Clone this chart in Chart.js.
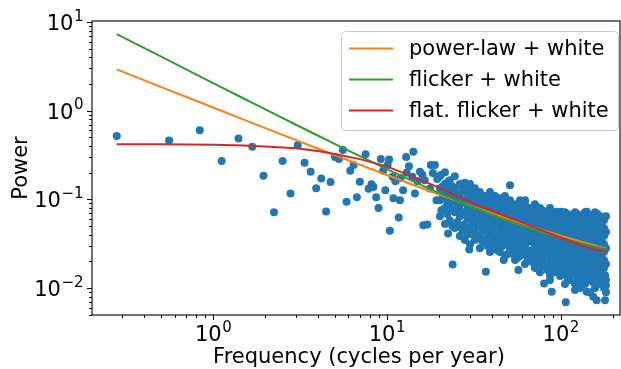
<!DOCTYPE html>
<html>
<head>
<meta charset="utf-8">
<script src="https://cdn.jsdelivr.net/npm/chart.js@4"></script>
<style>
  body { margin: 0; background: #fff; }
</style>
</head>
<body>
<canvas id="psdChart" width="621" height="369"></canvas>
<script>
// periodogram, low frequencies (cycles per year, power)
const sparsePoints = [
  [0.279, 0.521], [0.558, 0.463], [0.838, 0.604], [1.12, 0.272], [1.40, 0.487],
  [1.68, 0.392], [1.95, 0.185], [2.24, 0.0719], [2.51, 0.272], [2.79, 0.117],
  [3.07, 0.409], [3.36, 0.259], [3.64, 0.205], [3.92, 0.134], [4.19, 0.172],
  [4.47, 0.0732], [4.74, 0.157], [5.03, 0.302], [5.30, 0.285], [5.58, 0.360],
  [5.86, 0.094], [6.15, 0.210], [6.43, 0.244], [6.72, 0.106], [6.99, 0.158],
  [7.54, 0.324], [7.85, 0.132], [8.16, 0.148], [8.37, 0.138], [8.68, 0.106],
  [8.96, 0.0798], [9.23, 0.285], [9.52, 0.210], [9.79, 0.127], [10.1, 0.245],
  [10.3, 0.283], [10.4, 0.0443], [10.8, 0.180], [10.9, 0.103], [11.2, 0.160],
  [11.7, 0.0627], [11.9, 0.098], [12.0, 0.175], [12.4, 0.127], [12.9, 0.302],
  [13.0, 0.200], [13.4, 0.237], [14.0, 0.180], [14.2, 0.344], [14.5, 0.117],
  [15.0, 0.160], [15.5, 0.205], [16.0, 0.190], [16.2, 0.0513], [16.5, 0.165],
  [17.1, 0.052], [17.7, 0.133], [17.9, 0.244], [18.4, 0.199], [18.9, 0.244],
  [19.3, 0.098], [19.5, 0.170], [20.5, 0.190], [20.6, 0.0757], [21.0, 0.140],
  [22.5, 0.158], [22.5, 0.0414], [23.9, 0.0185], [25.2, 0.112], [25.8, 0.0491],
  [26.3, 0.0757], [28.1, 0.154], [29.8, 0.045], [29.8, 0.0273], [30.8, 0.098],
  [32.8, 0.098], [35.9, 0.090], [37.1, 0.0153], [39.2, 0.0414], [42.4, 0.098],
  [44.7, 0.103], [47.0, 0.0207], [51.1, 0.145], [53.5, 0.0292], [57.1, 0.0160],
  [62.4, 0.098], [68.0, 0.0246], [72.6, 0.0826], [80.3, 0.0113], [83.0, 0.0665],
  [86.8, 0.0140], [88.8, 0.0091], [95.0, 0.0725], [101, 0.0725], [107, 0.0069],
  [113, 0.0147], [121, 0.0095], [130, 0.0118], [134, 0.0665], [141, 0.0725],
  [141, 0.0091], [154, 0.0080], [161, 0.0073], [172, 0.0471], [180, 0.0073],
  [180, 0.0140], [182, 0.0107]
];

// periodogram, dense high-frequency cloud: [frequency, [powers...]]
const cloudColumns = [
  [20.2, [0.183, 0.134, 0.0982, 0.0648]],
  [21.6, [0.203, 0.149, 0.109, 0.0798, 0.0527]],
  [23.0, [0.165, 0.121, 0.0885, 0.0584]],
  [24.6, [0.183, 0.134, 0.0982, 0.0719, 0.0475]],
  [26.3, [0.149, 0.109, 0.0885, 0.0648, 0.0386]],
  [28.1, [0.134, 0.0982, 0.0719, 0.0527, 0.0348]],
  [30.1, [0.149, 0.121, 0.0798, 0.0648, 0.0475, 0.0313]],
  [32.1, [0.134, 0.109, 0.0885, 0.0584, 0.0428, 0.0348]],
  [34.3, [0.121, 0.0982, 0.0719, 0.0527, 0.0386, 0.0282]],
  [36.7, [0.109, 0.0885, 0.0648, 0.0475, 0.0348]],
  [39.2, [0.121, 0.0982, 0.0719, 0.0584, 0.0428, 0.0313, 0.0255]],
  [41.9, [0.109, 0.0798, 0.0648, 0.0527, 0.0386, 0.0282]],
  [44.7, [0.0982, 0.0719, 0.0584, 0.0475, 0.0348, 0.0255]],
  [47.8, [0.109, 0.0885, 0.0648, 0.0527, 0.0428, 0.0313, 0.0230]],
  [51.1, [0.0982, 0.0798, 0.0584, 0.0475, 0.0386, 0.0282]],
  [54.6, [0.0885, 0.0719, 0.0584, 0.0428, 0.0348, 0.0255, 0.0207]],
  [58.3, [0.0982, 0.0798, 0.0648, 0.0527, 0.0386, 0.0313, 0.0230]],
  [62.3, [0.0885, 0.0719, 0.0584, 0.0475, 0.0348, 0.0282, 0.0187]],
  [66.6, [0.0798, 0.0648, 0.0527, 0.0428, 0.0348, 0.0255, 0.0207]],
  [71.1, [0.0885, 0.0719, 0.0584, 0.0475, 0.0386, 0.0313, 0.0230, 0.0168]],
  [76.0, [0.0798, 0.0648, 0.0527, 0.0428, 0.0348, 0.0282, 0.0207, 0.0151]],
  [81.2, [0.0719, 0.0584, 0.0475, 0.0386, 0.0313, 0.0255, 0.0187]],
  [86.8, [0.0798, 0.0648, 0.0527, 0.0428, 0.0348, 0.0282, 0.0230, 0.0168, 0.0123]],
  [92.7, [0.0719, 0.0584, 0.0475, 0.0386, 0.0313, 0.0255, 0.0207, 0.0151]],
  [99.1, [0.0648, 0.0527, 0.0428, 0.0348, 0.0282, 0.0230, 0.0187, 0.0137]],
  [105.9, [0.0719, 0.0584, 0.0475, 0.0386, 0.0313, 0.0255, 0.0207, 0.0168, 0.0111]],
  [113.1, [0.0648, 0.0527, 0.0428, 0.0348, 0.0282, 0.0230, 0.0187, 0.0151, 0.0123]],
  [120.9, [0.0719, 0.0584, 0.0475, 0.0386, 0.0313, 0.0255, 0.0207, 0.0168, 0.0111]],
  [129.1, [0.0648, 0.0527, 0.0428, 0.0348, 0.0282, 0.0230, 0.0187, 0.0151, 0.0100]],
  [138.0, [0.0719, 0.0584, 0.0475, 0.0386, 0.0313, 0.0255, 0.0207, 0.0168, 0.0137, 0.0111]],
  [147.5, [0.0648, 0.0527, 0.0428, 0.0348, 0.0282, 0.0230, 0.0187, 0.0151, 0.0123, 0.0090]],
  [157.6, [0.0719, 0.0584, 0.0475, 0.0386, 0.0313, 0.0255, 0.0207, 0.0168, 0.0137, 0.0100]],
  [168.3, [0.0648, 0.0527, 0.0428, 0.0348, 0.0282, 0.0230, 0.0187, 0.0151, 0.0111]],
  [177.5, [0.0584, 0.0475, 0.0386, 0.0313, 0.0255, 0.0207, 0.0168, 0.0137, 0.0100]],
  [182.3, [0.0648, 0.0428, 0.0282, 0.0187, 0.0123, 0.0090]]
];

// more of the same cloud, between the columns above
const cloudColumnsMid = [
  [20.9, [0.1147, 0.0757]],
  [22.3, [0.1273, 0.0932, 0.0683]],
  [23.8, [0.141, 0.1034, 0.0757, 0.0500]],
  [25.4, [0.1147, 0.0841, 0.0555]],
  [27.2, [0.1273, 0.0932, 0.0683, 0.0451]],
  [29.1, [0.1147, 0.0841, 0.0615, 0.0406]],
  [31.1, [0.1273, 0.1034, 0.0841, 0.0683, 0.0555, 0.0406]],
  [33.2, [0.1147, 0.0932, 0.0757, 0.0615, 0.0500, 0.0366]],
  [35.5, [0.1034, 0.0841, 0.0683, 0.0555, 0.0451, 0.0330]],
  [37.9, [0.0932, 0.0757, 0.0615, 0.0500, 0.0406, 0.0298]],
  [40.5, [0.1034, 0.0841, 0.0683, 0.0555, 0.0451, 0.0366, 0.0298]],
  [43.3, [0.0932, 0.0757, 0.0615, 0.0500, 0.0406, 0.0330, 0.0268]],
  [46.2, [0.0841, 0.0683, 0.0555, 0.0451, 0.0366, 0.0298]],
  [49.4, [0.0932, 0.0757, 0.0615, 0.0500, 0.0406, 0.0330, 0.0242]],
  [52.8, [0.0841, 0.0683, 0.0555, 0.0451, 0.0366, 0.0298, 0.0242]],
  [56.4, [0.0757, 0.0615, 0.0500, 0.0406, 0.0330, 0.0268, 0.0218]],
  [60.3, [0.0841, 0.0683, 0.0555, 0.0451, 0.0366, 0.0298, 0.0242]],
  [64.4, [0.0757, 0.0615, 0.0500, 0.0406, 0.0330, 0.0268, 0.0218]],
  [68.8, [0.0757, 0.0615, 0.0500, 0.0406, 0.0330, 0.0268, 0.0196]],
  [73.5, [0.0683, 0.0555, 0.0451, 0.0366, 0.0298, 0.0242, 0.0196]],
  [78.5, [0.0757, 0.0615, 0.0500, 0.0406, 0.0330, 0.0268, 0.0218, 0.0177]],
  [83.9, [0.0683, 0.0555, 0.0451, 0.0366, 0.0298, 0.0242, 0.0196, 0.0160]],
  [89.7, [0.0615, 0.0500, 0.0406, 0.0330, 0.0268, 0.0218, 0.0177]],
  [95.8, [0.0683, 0.0555, 0.0451, 0.0366, 0.0298, 0.0242, 0.0196, 0.0160]],
  [102.4, [0.0615, 0.0500, 0.0406, 0.0330, 0.0268, 0.0218, 0.0177, 0.0144]],
  [109.4, [0.0683, 0.0555, 0.0451, 0.0366, 0.0298, 0.0242, 0.0196, 0.0160, 0.0130]],
  [116.9, [0.0615, 0.0500, 0.0406, 0.0330, 0.0268, 0.0218, 0.0177, 0.0144]],
  [124.9, [0.0683, 0.0555, 0.0451, 0.0366, 0.0298, 0.0242, 0.0196, 0.0160, 0.0130]],
  [133.5, [0.0615, 0.0500, 0.0406, 0.0330, 0.0268, 0.0218, 0.0177, 0.0144, 0.0117]],
  [142.6, [0.0683, 0.0555, 0.0451, 0.0366, 0.0298, 0.0242, 0.0196, 0.0160, 0.0130]],
  [152.4, [0.0615, 0.0500, 0.0406, 0.0330, 0.0268, 0.0218, 0.0177, 0.0144, 0.0117]],
  [162.8, [0.0683, 0.0555, 0.0451, 0.0366, 0.0298, 0.0242, 0.0196, 0.0160, 0.0130]],
  [172.8, [0.0615, 0.0500, 0.0406, 0.0330, 0.0268, 0.0218, 0.0177, 0.0144, 0.0117]]
];

// fitted noise models
const modelFreq   = [0.279, 0.5, 1, 1.5, 2, 3, 4, 5, 7, 10, 15, 20, 30, 50, 70, 100, 140, 182.6];
const powerLaw    = [2.93, 1.862, 1.088, 0.796, 0.638, 0.467, 0.375, 0.317, 0.246, 0.1885, 0.140, 0.1137, 0.0854, 0.0604, 0.0487, 0.0391, 0.0323, 0.0280];
const flicker     = [7.33, 4.10, 2.056, 1.376, 1.036, 0.696, 0.526, 0.424, 0.308, 0.220, 0.152, 0.118, 0.0843, 0.0571, 0.0454, 0.0367, 0.0309, 0.0275];
const flatFlicker = [0.420, 0.419, 0.413, 0.405, 0.396, 0.378, 0.352, 0.326, 0.285, 0.236, 0.172, 0.136, 0.094, 0.063, 0.049, 0.037, 0.029, 0.0252];

const seriesNames = ['power-law + white', 'flicker + white', 'flat. flicker + white'];
const seriesColors = ['#ff7f0e', '#2ca02c', '#d62728'];

const xTicks = [1, 10, 100];
const xTickExp = ['0', '1', '2'];
const yTicks = [0.01, 0.1, 1, 10];
const yTickExp = ['\u22122', '\u22121', '0', '1'];

const FONT = '"DejaVu Sans", sans-serif';

const observed = sparsePoints.map(p => ({x: p[0], y: p[1]}));
cloudColumns.concat(cloudColumnsMid).forEach(col => {
    col[1].forEach(p => observed.push({x: col[0], y: p}));
});

function modelData(vals) {
    return modelFreq.map((f, i) => ({x: f, y: vals[i]}));
}

function drawPow(ctx, exp, x, y, align) {
    ctx.font = '21px ' + FONT;
    const wb = ctx.measureText('10').width;
    ctx.font = '15px ' + FONT;
    const we = ctx.measureText(exp).width;
    const left = align === 'right' ? x - wb - we : x - (wb + we) / 2;
    ctx.font = '21px ' + FONT;
    ctx.fillText('10', left, y);
    ctx.font = '15px ' + FONT;
    ctx.fillText(exp, left + wb + 0.5, y - 9.5);
}

const decor = {
    id: 'decor',
    afterDraw(chart) {
        const ctx = chart.ctx;
        const a = chart.chartArea;
        const xs = chart.scales.x, ys = chart.scales.y;
        ctx.save();
        ctx.strokeStyle = '#000';
        ctx.fillStyle = '#000';
        ctx.lineWidth = 1.1;
        ctx.strokeRect(a.left, a.top, a.right - a.left, a.bottom - a.top);

        // tick marks
        ctx.lineWidth = 1;
        ctx.beginPath();
        [0.1, 1, 10, 100].forEach(d => {
            for (let m = 1; m <= 9; m++) {
                const v = d * m;
                if (v < xs.min || v > xs.max) continue;
                const px = Math.round(xs.getPixelForValue(v)) + 0.5;
                ctx.moveTo(px, a.bottom);
                ctx.lineTo(px, a.bottom + (m === 1 ? 5 : 3));
            }
        });
        [0.001, 0.01, 0.1, 1, 10].forEach(d => {
            for (let m = 1; m <= 9; m++) {
                const v = d * m;
                if (v < ys.min || v > ys.max) continue;
                const py = Math.round(ys.getPixelForValue(v)) + 0.5;
                ctx.moveTo(a.left, py);
                ctx.lineTo(a.left - (m === 1 ? 5 : 3), py);
            }
        });
        ctx.stroke();

        // tick labels
        ctx.textBaseline = 'alphabetic';
        ctx.textAlign = 'left';
        xTicks.forEach((v, i) => {
            drawPow(ctx, xTickExp[i], xs.getPixelForValue(v), 341, 'center');
        });
        yTicks.forEach((v, i) => {
            drawPow(ctx, yTickExp[i], 83, ys.getPixelForValue(v) + 8, 'right');
        });

        // axis titles
        ctx.font = '21px ' + FONT;
        ctx.textAlign = 'center';
        ctx.fillText('Frequency (cycles per year)', (a.left + a.right) / 2 + 3, 363);
        ctx.save();
        ctx.translate(27, (a.top + a.bottom) / 2);
        ctx.rotate(-Math.PI / 2);
        ctx.fillText('Power', 0, 0);
        ctx.restore();

        // legend
        ctx.beginPath();
        ctx.roundRect(341.5, 31.5, 277, 99, 4);
        ctx.fillStyle = 'rgba(255,255,255,0.8)';
        ctx.fill();
        ctx.strokeStyle = '#cccccc';
        ctx.lineWidth = 1;
        ctx.stroke();
        ctx.textAlign = 'left';
        seriesNames.forEach((name, i) => {
            const cy = 48.5 + i * 31;
            ctx.strokeStyle = seriesColors[i];
            ctx.lineWidth = 2;
            ctx.beginPath();
            ctx.moveTo(349, cy);
            ctx.lineTo(393, cy);
            ctx.stroke();
            ctx.fillStyle = '#000';
            ctx.font = '21px ' + FONT;
            ctx.fillText(name, 409, cy + 6.5);
        });
        ctx.restore();
    }
};

const ctx = document.getElementById('psdChart').getContext('2d');
new Chart(ctx, {
    type: 'scatter',
    data: {
        datasets: [
            {
                label: seriesNames[0],
                data: modelData(powerLaw),
                showLine: true,
                borderColor: seriesColors[0],
                borderWidth: 2,
                pointRadius: 0,
                order: 2
            },
            {
                label: seriesNames[1],
                data: modelData(flicker),
                showLine: true,
                borderColor: seriesColors[1],
                borderWidth: 2,
                pointRadius: 0,
                order: 1
            },
            {
                label: seriesNames[2],
                data: modelData(flatFlicker),
                showLine: true,
                borderColor: seriesColors[2],
                borderWidth: 2,
                pointRadius: 0,
                order: 0
            },
            {
                label: 'periodogram',
                data: observed,
                backgroundColor: '#1f77b4',
                borderColor: '#1f77b4',
                borderWidth: 0,
                pointRadius: 4,
                order: 3
            }
        ]
    },
    options: {
        responsive: false,
        animation: false,
        layout: { autoPadding: false, padding: { top: 21, right: 1, left: 0, bottom: 0 } },
        plugins: {
            legend: { display: false },
            tooltip: { enabled: false }
        },
        scales: {
            x: {
                type: 'logarithmic',
                min: 0.201,
                max: 219.5,
                ticks: { display: false },
                grid: { display: false },
                border: { display: false },
                afterFit(scale) { scale.height = 54; }
            },
            y: {
                type: 'logarithmic',
                min: 0.00497,
                max: 10.3,
                ticks: { display: false },
                grid: { display: false },
                border: { display: false },
                afterFit(scale) { scale.width = 92; }
            }
        }
    },
    plugins: [decor]
});
</script>
</body>
</html>
